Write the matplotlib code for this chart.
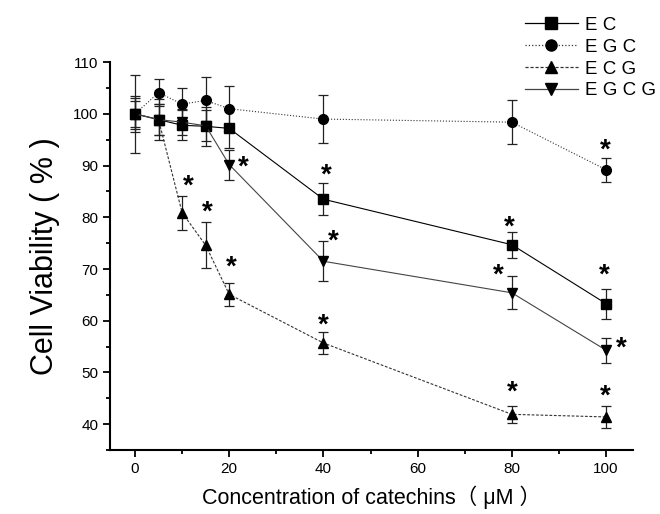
import matplotlib.pyplot as plt
import matplotlib.transforms as mtransforms
from matplotlib.lines import Line2D
from matplotlib.ticker import MultipleLocator

plt.rcParams['font.family'] = ['Liberation Sans', 'Noto Sans CJK SC', 'DejaVu Sans']

# concentrations (uM)
conc = [0, 5, 10, 15, 20, 40, 80, 100]

ec = [100, 98.9, 97.8, 97.6, 97.2, 83.5, 74.7, 63.3]
ec_err = [3.5, 3.0, 2.9, 3.8, 3.7, 3.1, 2.5, 2.9]

egc = [100, 104.1, 101.9, 102.6, 101.0, 99.0, 98.4, 89.2]
egc_err = [7.5, 2.6, 3.2, 4.6, 4.3, 4.6, 4.3, 2.3]

ecg = [100, 98.9, 80.9, 74.6, 65.1, 55.7, 41.9, 41.4]
ecg_err = [3.0, 4.0, 3.3, 4.4, 2.2, 2.2, 1.7, 2.2]

egcg = [100, 98.9, 98.4, 97.7, 90.2, 71.5, 65.4, 54.3]
egcg_err = [2.5, 3.0, 2.5, 3.0, 2.9, 3.9, 3.2, 2.4]

# significance marks
star_x = [11.3, 15.4, 20.4, 22.9, 40.5, 42.0, 40.0, 79.5, 77.1, 80.1, 99.6, 103.2, 99.8, 99.8]
star_y = [87.3, 82.2, 71.7, 90.9, 89.4, 76.7, 60.4, 79.4, 70.1, 47.5, 70.1, 55.9, 46.6, 94.3]

fig = plt.figure(figsize=(6.6, 5.14), dpi=100)
ax = fig.add_axes([0.1667, 0.1245, 0.7923, 0.7545])

series = [
    (ec, ec_err, 's', '-', 'E C', 'black'),
    (egc, egc_err, 'o', ':', 'E G C', '#333333'),
    (ecg, ecg_err, '^', (0, (2.5, 1.5)), 'E C G', '#333333'),
    (egcg, egcg_err, 'v', '-', 'E G C G', '#444444'),
]
handles = []
for vals, errs, mk, ls, lab, col in series:
    ax.errorbar(conc, vals, yerr=errs, marker=mk, linestyle=ls, color=col,
                mfc='black', mec='black', markersize=7, linewidth=0.8,
                elinewidth=0.9, ecolor='#222222', capsize=3.5, capthick=0.9)
    handles.append(Line2D([], [], marker=mk, linestyle=ls, color=col,
                          mfc='black', mec='black', markersize=8, linewidth=0.9,
                          label=lab))

# asterisk glyph sits high in its box, nudge it down
star_tr = ax.transData + mtransforms.ScaledTranslation(0, -5 / 72, fig.dpi_scale_trans)
for sx, sy in zip(star_x, star_y):
    ax.text(sx, sy, '*', fontsize=20, fontweight='bold', ha='center', va='center',
            transform=star_tr)

ax.set_xlim(-5.3, 105.7)
ax.set_ylim(35, 110)
ax.xaxis.set_major_locator(MultipleLocator(20))
ax.xaxis.set_minor_locator(MultipleLocator(10))
ax.yaxis.set_major_locator(MultipleLocator(10))
ax.yaxis.set_minor_locator(MultipleLocator(5))
ax.set_yticks([40, 50, 60, 70, 80, 90, 100, 110])
ax.tick_params(which='both', direction='out', width=1.3, labelsize=11)
ax.tick_params(which='major', length=5)
ax.tick_params(which='minor', length=3)
for side in ['top', 'right']:
    ax.spines[side].set_visible(False)
for side in ['left', 'bottom']:
    ax.spines[side].set_linewidth(1.5)

ax.set_xlabel('Concentration of catechins\uff08 \u03bcM \uff09', fontsize=15.5, labelpad=7)
ax.set_ylabel('Cell Viability ( % )', fontsize=22, labelpad=9)

fig.legend(handles=handles, loc='upper left', bbox_to_anchor=(0.77, 1.0), frameon=False,
           fontsize=13.5, handlelength=2.8, labelspacing=0.25, handletextpad=0.4)

fig.savefig('out.png', dpi=100)
